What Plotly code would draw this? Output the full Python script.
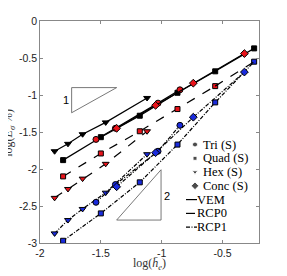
import plotly.graph_objects as go

# --- data (log h, log E) ---
hex_h = [-1.88, -1.77, -1.65, -1.46, -1.12]
quad_h = [-1.81, -1.50, -1.18, -0.87, -0.56, -0.24]
tri_h = [-1.54, -1.38, -1.03, -0.85]
conc_h = [-1.37, -1.05, -0.74, -0.32]

vem_hex = [-1.76, -1.66, -1.53, -1.37, -1.04]
vem_quad = [-1.88, -1.57, -1.28, -0.97, -0.68, -0.37]
vem_tri = [-1.60, -1.45, -1.11, -0.93]
vem_conc = [-1.45, -1.14, -0.84, -0.44]

rcp0_hex = [-2.39, -2.27, -2.13, -1.93, -1.49]
rcp0_quad = [-2.10, -1.79, -1.49, -1.19, -0.88, -0.55]

rcp1_hex = [-2.87, -2.69, -2.54, -2.32, -1.80]
rcp1_quad = [-2.97, -2.60, -2.18, -1.67, -1.10, -0.55]
rcp1_tri = [-2.45, -2.21, -1.76, -1.41]
rcp1_conc = [-2.24, -1.78, -1.30, -0.69]

x_ticks = [-2, -1.5, -1, -0.5]
y_ticks = [0, -0.5, -1, -1.5, -2, -2.5, -3]

legend_markers = ["Tri (S)", "Quad (S)", "Hex (S)", "Conc (S)"]
legend_lines = ["VEM", "RCP0", "RCP1"]
x_title = "log(<i>h̄</i><sub><i>e</i></sub>)"
y_title = "log(<i>E</i><sub><i>σ</i></sub> %)"

RED = "#e8141b"
BLUE = "#1a2bdc"
BLK = "#000000"
DD = "4px,1.5px,1px,1.5px"
SIZES = {"circle": 6, "square": 5, "triangle-down": 6, "diamond": 6}
SERIF = "Liberation Serif, DejaVu Serif, serif"

fig = go.Figure()

def add(x, y, sym, fill, dash):
    fig.add_trace(go.Scatter(
        x=x, y=y, mode="lines+markers", showlegend=False,
        line=dict(color="black", width=1.2, dash=dash),
        marker=dict(symbol=sym, size=SIZES[sym], color=fill, line=dict(color="black", width=1)),
    ))

# RCP1
add(hex_h, rcp1_hex, "triangle-down", BLUE, DD)
add(quad_h, rcp1_quad, "square", BLUE, DD)
add(tri_h, rcp1_tri, "circle", BLUE, DD)
add(conc_h, rcp1_conc, "diamond", BLUE, DD)
# RCP0
add(hex_h, rcp0_hex, "triangle-down", RED, "dash")
add(quad_h[:-1], rcp0_quad[:-1], "square", RED, "dash")
fig.add_trace(go.Scatter(x=quad_h[-2:], y=rcp0_quad[-2:], mode="lines", showlegend=False,
                         line=dict(color="black", width=1.2, dash="dash")))
# VEM
add(hex_h, vem_hex, "triangle-down", BLK, "solid")
add(quad_h, vem_quad, "square", BLK, "solid")
add(tri_h, vem_tri, "circle", RED, "solid")
add(conc_h, vem_conc, "diamond", RED, "solid")

# slope triangles
fig.add_trace(go.Scatter(x=[-1.74, -1.37, -1.74, -1.74], y=[-0.90, -0.90, -1.24, -0.90],
                         mode="lines", line=dict(color="#555555", width=0.8), showlegend=False))
fig.add_trace(go.Scatter(x=[-1.37, -1.005, -1.005, -1.37], y=[-2.69, -2.69, -2.01, -2.69],
                         mode="lines", line=dict(color="#555555", width=0.8), showlegend=False))
fig.add_annotation(x=-1.79, y=-1.07, text="1", showarrow=False,
                   font=dict(family="Liberation Sans, Arial", size=11, color="black"))
fig.add_annotation(x=-0.955, y=-2.36, text="2", showarrow=False,
                   font=dict(family="Liberation Sans, Arial", size=11, color="black"))

# --- manual legend on an overlay axis in pixel units (relative to reference) ---
syms = ["circle", "square", "triangle-down", "diamond"]
ys_m = [144.5, 158.3, 172, 185.8]
fig.add_trace(go.Scatter(x=[195] * 4, y=ys_m, mode="markers", showlegend=False,
                         xaxis="x2", yaxis="y2",
                         marker=dict(symbol=syms, size=[5, 4, 5, 6], color="black")))
ys_l = [199.6, 213.4, 227.2]
dashes = ["solid", "dash", DD]
for yl, d in zip(ys_l, dashes):
    fig.add_trace(go.Scatter(x=[186, 197], y=[yl, yl], mode="lines", showlegend=False,
                             xaxis="x2", yaxis="y2", line=dict(color="black", width=1.2, dash=d)))
for txt, yy in zip(legend_markers, ys_m):
    fig.add_annotation(x=202, y=yy, xref="x2", yref="y2", text=txt, showarrow=False,
                       xanchor="left", yanchor="middle", borderpad=0,
                       font=dict(family=SERIF, size=12.5, color="black"))
for txt, yy in zip(legend_lines, ys_l):
    fig.add_annotation(x=196, y=yy, xref="x2", yref="y2", text=txt, showarrow=False,
                       xanchor="left", yanchor="middle", borderpad=0,
                       font=dict(family=SERIF, size=12.5, color="black"))

# axis titles as paper-anchored annotations
fig.add_annotation(x=0.5, y=-0.095, xref="paper", yref="paper", text=x_title, showarrow=False,
                   xanchor="center", yanchor="middle", borderpad=0,
                   font=dict(family=SERIF, size=12, color="#333333"))
fig.add_annotation(x=-0.142, y=0.496, xref="paper", yref="paper", text=y_title, showarrow=False,
                   textangle=-90, xanchor="center", yanchor="middle", borderpad=0,
                   font=dict(family=SERIF, size=12, color="#333333"))

axis_common = dict(showgrid=False, zeroline=False, ticks="inside", ticklen=3, automargin=False,
                   linecolor="#888888", linewidth=0.8, mirror="ticks", showline=True,
                   tickcolor="#888888", tickfont=dict(family="Liberation Sans, Arial", size=10.5, color="#222222"))

# page body has an ~8px offset, so the plot area is shifted up/left to compensate
fig.update_layout(
    width=287, height=276,
    margin=dict(l=32, r=36, t=13, b=41),
    plot_bgcolor="white", paper_bgcolor="white",
    showlegend=False,
    xaxis=dict(range=[-2, -0.2], tickvals=x_ticks, ticktext=[str(v) for v in x_ticks], **axis_common),
    yaxis=dict(range=[-3, 0], tickvals=y_ticks, ticktext=[str(v) for v in y_ticks], **axis_common),
    xaxis2=dict(range=[40, 259], overlaying="x", visible=False, fixedrange=True),
    yaxis2=dict(range=[243, 21], overlaying="y", visible=False, fixedrange=True),
)

fig.write_html("out.html")
